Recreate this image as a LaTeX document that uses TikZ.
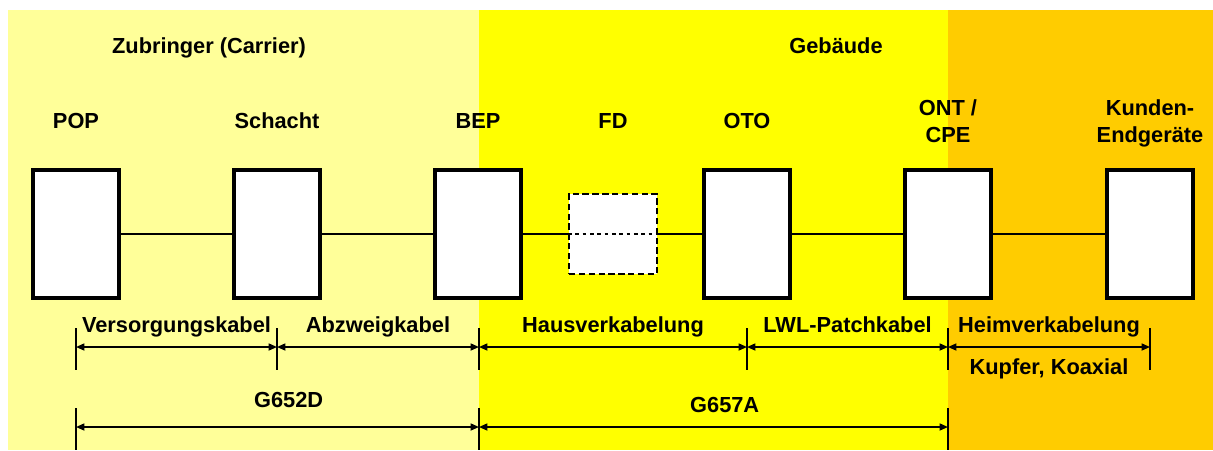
\documentclass[tikz,border=0pt]{standalone}
\usepackage{fontspec}
\setmainfont{Liberation Sans}
\usepackage{xcolor}
\usetikzlibrary{arrows.meta,positioning}

\definecolor{carrierzone}{HTML}{FFFF99}
\definecolor{housezone}{HTML}{FFFF00}
\definecolor{homezone}{HTML}{FFCC00}

\tikzset{
  device/.style={draw, line width=2.8pt, fill=white, minimum width=2.15cm, minimum height=3.2cm, inner sep=0pt},
  optdevice/.style={draw, dash pattern=on 4.5pt off 2.5pt, line width=1.3pt, fill=white, minimum width=2.2cm, minimum height=2cm, inner sep=0pt},
  fibre/.style={line width=1.6pt},
  dimline/.style={line width=1.1pt, {Triangle[length=6pt,width=5pt]}-{Triangle[length=6pt,width=5pt]}},
  dimtick/.style={line width=1.4pt},
  dimlabel/.style={anchor=base, yshift=10.6pt}
}

\begin{document}
\begin{tikzpicture}[x=0.025cm, y=-0.025cm, every node/.style={font=\fontsize{15.5}{19}\selectfont\bfseries}]
    \useasboundingbox (0,0) rectangle (1213,450);

    % Zones
    \fill[carrierzone] (8,10) rectangle (479,450);
    \fill[housezone] (479,10) rectangle (948,450);
    \fill[homezone] (948,10) rectangle (1213,450);
    \node[anchor=base] (carrier) at (209,53) {Zubringer (Carrier)};
    \node[anchor=base] (building) at (836,53) {Gebäude};

    % Devices
    \foreach \name/\x in {pop/76, schacht/277, bep/478, oto/747, ont/948, kunden/1150}
        \node[device] (\name) at (\x,234) {};
    \node[optdevice] (fd) at (613,234) {};

    % Device labels
    \node[anchor=base] (popL) at (76,128) {POP};
    \node[anchor=base] (schachtL) at (277,128) {Schacht};
    \node[anchor=base] (bepL) at (478,128) {BEP};
    \node[anchor=base] (fdL) at (613,128) {FD};
    \node[anchor=base] (otoL) at (747,128) {OTO};
    \node[anchor=base, align=center] (ontL) at (948,142) {ONT /\\CPE};
    \node[anchor=base, align=center] (kundenL) at (1150,142) {Kunden-\\Endgeräte};

    % Cabling
    \draw[fibre] (pop) -- (schacht);
    \draw[fibre] (schacht) -- (bep);
    \draw[fibre] (bep) -- (fd.west);
    \draw[fibre, dash pattern=on 2.6pt off 2.6pt] (fd.west) -- (fd.east);
    \draw[fibre] (fd.east) -- (oto);
    \draw[fibre] (oto) -- (ont);
    \draw[fibre] (ont) -- (kunden);

    % Cable sections
    \foreach \i/\x in {1/76, 2/277, 3/479, 4/747, 5/948, 6/1150} {
        \coordinate (s\i) at (\x,347);
        \draw[dimtick] (\x,328) -- (\x,370);
    }
    \draw[dimline] (s1) -- (s2) node[midway, dimlabel] {Versorgungskabel};
    \draw[dimline] (s2) -- (s3) node[midway, dimlabel] {Abzweigkabel};
    \draw[dimline] (s3) -- (s4) node[midway, dimlabel] {Hausverkabelung};
    \draw[dimline] (s4) -- (s5) node[midway, dimlabel] {LWL-Patchkabel};
    \draw[dimline] (s5) -- (s6) node[midway, dimlabel] {Heimverkabelung}
        node[midway, anchor=base, yshift=-19.8pt] {Kupfer, Koaxial};

    % Fibre types
    \foreach \i/\x in {1/76, 2/479, 3/948} {
        \coordinate (f\i) at (\x,427);
        \draw[dimtick] (\x,408) -- (\x,450);
    }
    \draw[dimline] (f1) -- (f2) node[midway, anchor=base, xshift=0.28cm, yshift=14.2pt] {G652D};
    \draw[dimline] (f2) -- (f3) node[midway, anchor=base, xshift=0.28cm, yshift=10.6pt] {G657A};
\end{tikzpicture}
\end{document}
